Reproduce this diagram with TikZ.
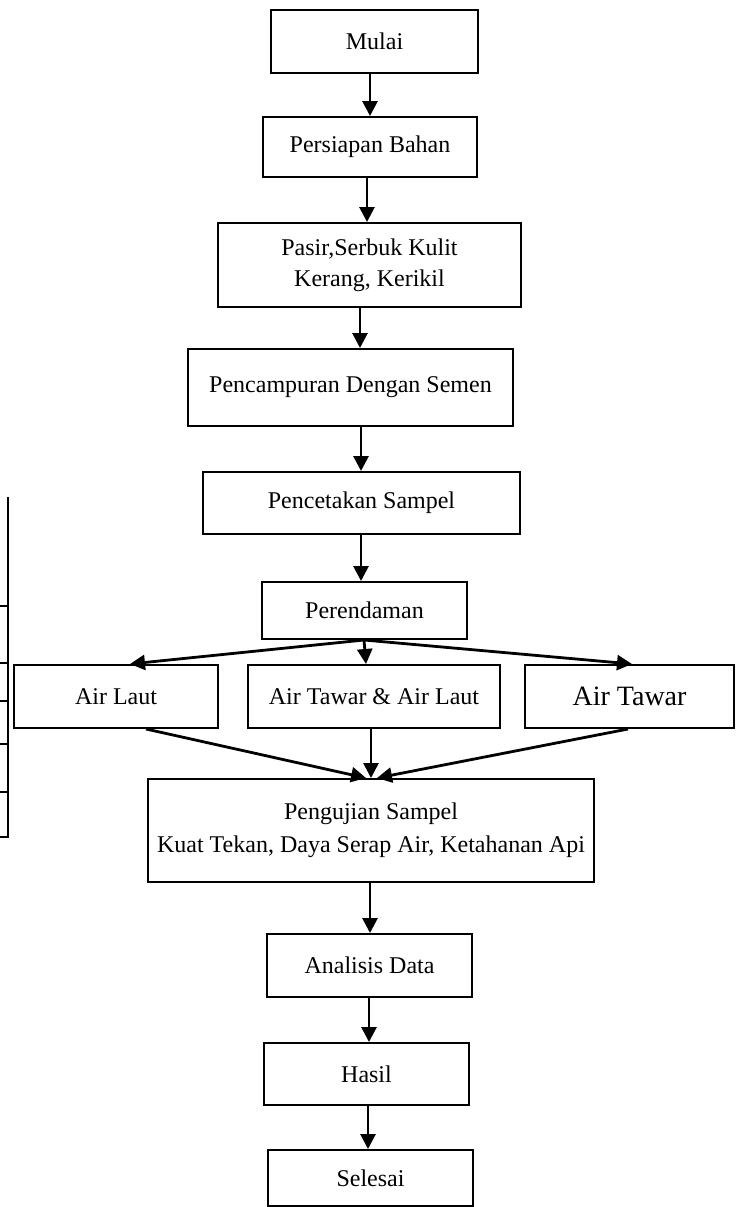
\documentclass[tikz,border=0pt]{standalone}
\usepackage{fontspec}
\setmainfont{Liberation Serif}
\usetikzlibrary{arrows.meta}
\begin{document}
\begin{tikzpicture}[x=1pt,y=-1pt,
  box/.style={draw=black,line width=2pt,inner sep=0pt,align=center,
    font=\fontsize{24}{31}\selectfont},
  arr/.style={line width=2.8pt,-{Triangle[length=15pt,width=15pt]}},
  tbl/.style={line width=2.6pt}]
\useasboundingbox (0,0) rectangle (737,1207);
% boxes: center x, center y, width, height
\node[box,minimum width=207pt,minimum height=63pt] (mulai) at (374.5,41.5) {Mulai};
\node[box,minimum width=214pt,minimum height=60pt] (persiapan) at (370,147) {Persiapan Bahan};
\node[box,minimum width=303pt,minimum height=84pt] (pasir) at (369.5,265) {Pasir,Serbuk Kulit\\Kerang, Kerikil};
\node[box,minimum width=325pt,minimum height=77pt] (campur) at (350.5,387.5) {Pencampuran Dengan Semen};
\node[box,minimum width=317pt,minimum height=62pt] (cetak) at (361.5,503) {Pencetakan Sampel};
\node[box,minimum width=205pt,minimum height=57pt] (rendam) at (364.5,610.5) {Perendaman};
\node[box,minimum width=204pt,minimum height=63pt] (laut) at (116,696.5) {Air Laut};
\node[box,minimum width=252pt,minimum height=63pt] (campuran) at (374,696.5) {Air Tawar \& Air Laut};
\node[box,minimum width=209pt,minimum height=63pt,font=\fontsize{28}{34}\selectfont] (tawar) at (629.5,696.5) {Air Tawar};
\node[box,minimum width=446pt,minimum height=103pt,font=\fontsize{24}{33}\selectfont] (uji) at (371,830.5) {Pengujian Sampel\\Kuat Tekan, Daya Serap Air, Ketahanan Api};
\node[box,minimum width=205pt,minimum height=63pt] (analisis) at (369.5,965.5) {Analisis Data};
\node[box,minimum width=205pt,minimum height=62pt] (hasil) at (366.5,1074) {Hasil};
\node[box,minimum width=205pt,minimum height=56pt] (selesai) at (370.5,1178) {Selesai};
% connectors
\draw[arr] (370,0 |- mulai.south) -- (370,0 |- persiapan.north);
\draw[arr] (367,0 |- persiapan.south) -- (367,0 |- pasir.north);
\draw[arr] (360,0 |- pasir.south) -- (360,0 |- campur.north);
\draw[arr] (361,0 |- campur.south) -- (361,0 |- cetak.north);
\draw[arr] (361,0 |- cetak.south) -- (361,0 |- rendam.north);
\coordinate (rs) at (364,0 |- rendam.south);
\draw[arr] (rs) -- (130,0 |- laut.north);
\draw[arr] (rs) -- (366,0 |- campuran.north);
\draw[arr] (rs) -- (632,0 |- tawar.north);
\draw[arr] (146,0 |- laut.south) -- (366,0 |- uji.north);
\draw[arr] (371,0 |- campuran.south) -- (371,0 |- uji.north);
\draw[arr] (628,0 |- tawar.south) -- (377,0 |- uji.north);
\draw[arr] (370,0 |- uji.south) -- (370,0 |- analisis.north);
\draw[arr] (369,0 |- analisis.south) -- (369,0 |- hasil.north);
\draw[arr] (368,0 |- hasil.south) -- (368,0 |- selesai.north);
% cropped table edge at left
\draw[tbl] (8,497) -- (8,837) -- (0,837);
\foreach \yy in {606,663,701,744,792} \draw[line width=2pt] (0,\yy) -- (8,\yy);
\end{tikzpicture}
\end{document}
